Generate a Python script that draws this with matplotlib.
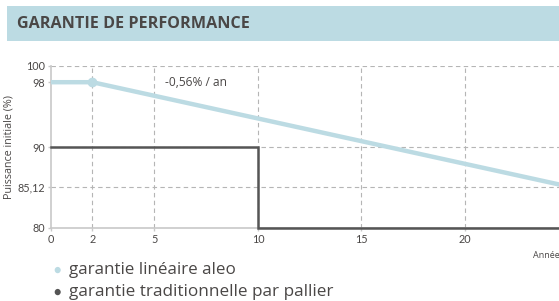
import matplotlib
matplotlib.use("Agg")
import matplotlib.pyplot as plt
from matplotlib.patches import Rectangle

# Data
lin_x = [0, 2, 25]
lin_y = [98, 98, 85.12]
step_x = [0, 10, 10, 25]
step_y = [90, 90, 80, 80]
xticks = [0, 2, 5, 10, 15, 20]
yticks = [80, 85.12, 90, 98, 100]
ytick_labels = ["80", "85,12", "90", "98", "100"]
title = "GARANTIE DE PERFORMANCE"
ylabel = "Puissance initiale (%)"
annot = "-0,56% / an"
legend_labels = ["garantie linéaire aleo", "garantie traditionnelle par pallier"]

W, H = 559, 301
BLUE = "#bcdbe3"
DARK = "#555555"
GRID = "#b5b5b5"
TXT = "#4a4746"
FONT = ["Lato", "DejaVu Sans"]
WIDE = ["Open Sans", "DejaVu Sans"]

fig = plt.figure(figsize=(W / 100, H / 100), dpi=100)
plt.rcParams["font.family"] = FONT
renderer = fig.canvas.get_renderer()


def fit(t, target, vertical=False):
    for _ in range(2):
        bb = t.get_window_extent(renderer)
        cur = bb.height if vertical else bb.width
        t.set_fontsize(t.get_fontsize() * target / cur)


# Title banner
fig.patches.append(Rectangle((7 / W, 1 - 41 / H), 1 - 7 / W, 35 / H,
                             transform=fig.transFigure, facecolor=BLUE,
                             edgecolor="none", zorder=0))
tt = fig.text(17 / W, 1 - 23.5 / H, title, fontsize=10.8, fontweight="bold",
              color=TXT, va="center", ha="left", family=WIDE)
fit(tt, 233)

ax = fig.add_axes([51 / W, 1 - 228 / H, 1 - 51 / W, (228 - 66) / H])
ax.set_xlim(0, (W - 51) / 20.7)
ax.set_ylim(80, 100)

for x in [2, 5, 10, 15, 20]:
    ax.axvline(x, color=GRID, lw=0.8, ls=(0, (4, 3)), zorder=1)
for y in [85.12, 90, 100]:
    ax.axhline(y, color=GRID, lw=0.8, ls=(0, (4, 3)), zorder=1)

ax.plot(step_x, step_y, color=DARK, lw=1.8, zorder=3, solid_joinstyle="miter",
        clip_on=False)
ax.plot(lin_x, lin_y, color=BLUE, lw=3.2, zorder=4, solid_capstyle="butt")
ax.plot([lin_x[1]], [lin_y[1]], "o", color=BLUE, ms=6, zorder=5)

at = ax.text(5.5, 98, annot, fontsize=7.5, color=TXT, va="center", ha="left",
             family=WIDE)
fit(at, 62)

for s in ["top", "right"]:
    ax.spines[s].set_visible(False)
for s in ["left", "bottom"]:
    ax.spines[s].set_color("#c8c8c8")
    ax.spines[s].set_linewidth(1.2)
    ax.spines[s].set_zorder(2)

ax.set_xticks(xticks)
ax.set_yticks(yticks)
ax.set_yticklabels(ytick_labels)
ax.tick_params(axis="both", labelsize=7.8, colors="#c8c8c8", labelcolor=TXT,
               length=2.5, width=1, pad=2)
yl = ax.set_ylabel(ylabel, fontsize=7.5, color=TXT, labelpad=2, family=WIDE)
fit(yl, 106, vertical=True)

fig.text(533 / W, 1 - 256 / H, "Années", fontsize=6.5, color=TXT,
         va="center", ha="left", family=WIDE)

# Legend
targets = [168, 264]
for i, (lab, col) in enumerate(zip(legend_labels, [BLUE, DARK])):
    yy = 1 - (270 + i * 22) / H
    fig.text(57 / W, yy, "●", fontsize=9, color=col, va="center", ha="center")
    lt = fig.text(69 / W, yy, lab, fontsize=11, color=TXT, va="center",
                  ha="left", family=WIDE)
    fit(lt, targets[i])

fig.savefig("out.png", dpi=100)
